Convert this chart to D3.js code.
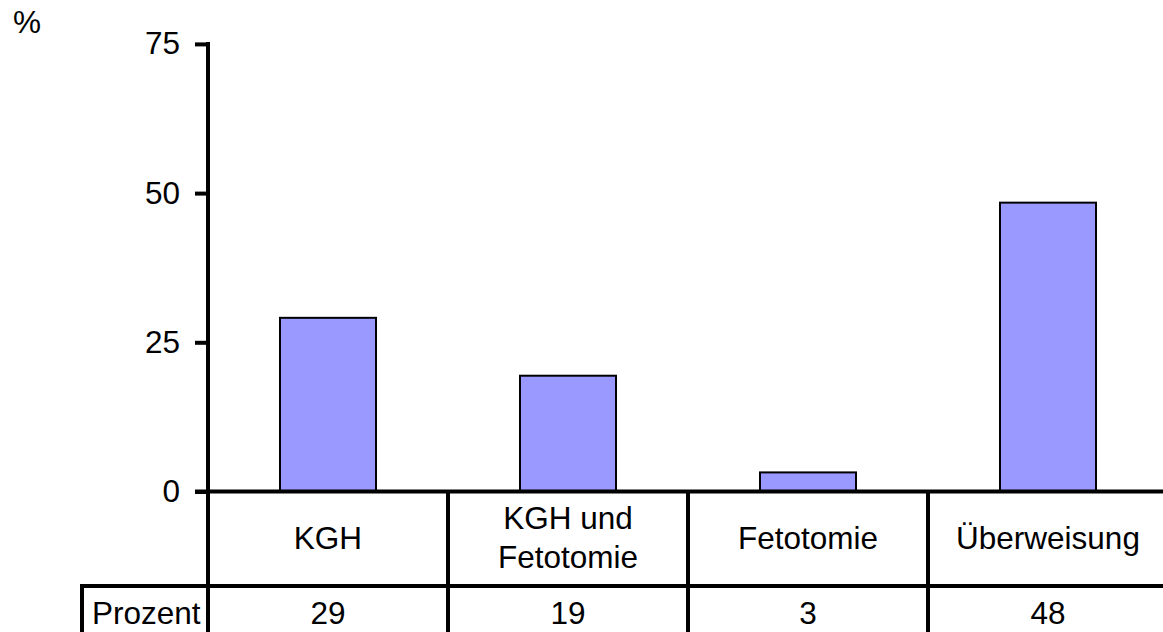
<!DOCTYPE html>
<html>
<head>
<meta charset="utf-8">
<script src="https://cdn.jsdelivr.net/npm/d3@7"></script>
<style>
  html, body { margin: 0; padding: 0; background: #fff; }
  svg { display: block; font-family: "Liberation Sans", Arial, sans-serif; }
</style>
</head>
<body>
<svg id="chart" width="1163" height="632"></svg>
<script>
// ---- data ----
const categories = [["KGH"], ["KGH und", "Fetotomie"], ["Fetotomie"], ["Überweisung"]];
const categoryKeys = ["KGH", "KGH und Fetotomie", "Fetotomie", "Überweisung"];
const values = [29.1, 19.4, 3.2, 48.4];
const tableLabels = ["29", "19", "3", "48"];
const rowLabel = "Prozent";
const yTicks = [0, 25, 50, 75];
const yUnit = "%";

// ---- layout ----
const W = 1163, H = 632;
const plotLeft = 208, plotRight = 1168;
const yTop = 43.9, yZero = 491.5;
const row2Top = 586, tableLeft = 82;
const lw = 4;
const fs = 31.5;

const svg = d3.select("#chart");

const x = d3.scaleBand().domain(categoryKeys).range([plotLeft, plotRight]).paddingInner(0.6).paddingOuter(0.3);
const xCol = d3.scaleBand().domain(categoryKeys).range([plotLeft, plotRight]).padding(0);
const y = d3.scaleLinear().domain([0, 75]).range([yZero, yTop]);

// bars
svg.append("g").selectAll("rect").data(values).join("rect")
  .attr("x", (d, i) => x(categoryKeys[i]))
  .attr("width", x.bandwidth())
  .attr("y", d => y(d))
  .attr("height", d => y(0) - y(d))
  .attr("fill", "#9999ff")
  .attr("stroke", "#000")
  .attr("stroke-width", 2);

// y axis
const yAxis = d3.axisLeft(y).tickValues(yTicks).tickSize(13).tickSizeOuter(0).tickPadding(15);
const gy = svg.append("g").attr("transform", `translate(${plotLeft},0)`).call(yAxis);
gy.select(".domain").remove();
gy.selectAll(".tick line").attr("stroke", "#000").attr("stroke-width", lw);
gy.selectAll(".tick text").attr("fill", "#000").style("font-size", fs + "px")
  .style("font-family", '"Liberation Sans", Arial, sans-serif');

// axis/table lines
const lines = svg.append("g").attr("stroke", "#000").attr("stroke-width", lw).attr("fill", "none");
lines.append("line").attr("x1", plotLeft).attr("x2", plotLeft).attr("y1", yTop - 2).attr("y2", H);
lines.append("line").attr("x1", plotLeft - 13).attr("x2", W).attr("y1", y(0)).attr("y2", y(0));
lines.append("line").attr("x1", tableLeft).attr("x2", W).attr("y1", row2Top).attr("y2", row2Top);
lines.append("line").attr("x1", tableLeft).attr("x2", tableLeft).attr("y1", row2Top - lw / 2).attr("y2", H);
categoryKeys.slice(1).forEach(k => {
  lines.append("line").attr("x1", xCol(k)).attr("x2", xCol(k)).attr("y1", y(0)).attr("y2", H);
});

// category labels
const catG = svg.append("g").attr("font-size", fs).attr("fill", "#000").attr("text-anchor", "middle");
categories.forEach((lines2, i) => {
  const cx = xCol(categoryKeys[i]) + xCol.bandwidth() / 2;
  const t = catG.append("text").attr("x", cx);
  if (lines2.length === 1) {
    t.attr("y", 549).text(lines2[0]);
  } else {
    lines2.forEach((s, j) => t.append("tspan").attr("x", cx).attr("y", 529 + j * 39).text(s));
  }
});

// table values
svg.append("g").attr("font-size", fs).attr("text-anchor", "middle").selectAll("text")
  .data(tableLabels).join("text")
  .attr("x", (d, i) => xCol(categoryKeys[i]) + xCol.bandwidth() / 2)
  .attr("y", 624)
  .text(d => d);

svg.append("text").attr("x", 92).attr("y", 624).attr("font-size", fs).text(rowLabel);

// unit label
svg.append("text").attr("x", 13).attr("y", 33).attr("font-size", fs).text(yUnit);
</script>
</body>
</html>
